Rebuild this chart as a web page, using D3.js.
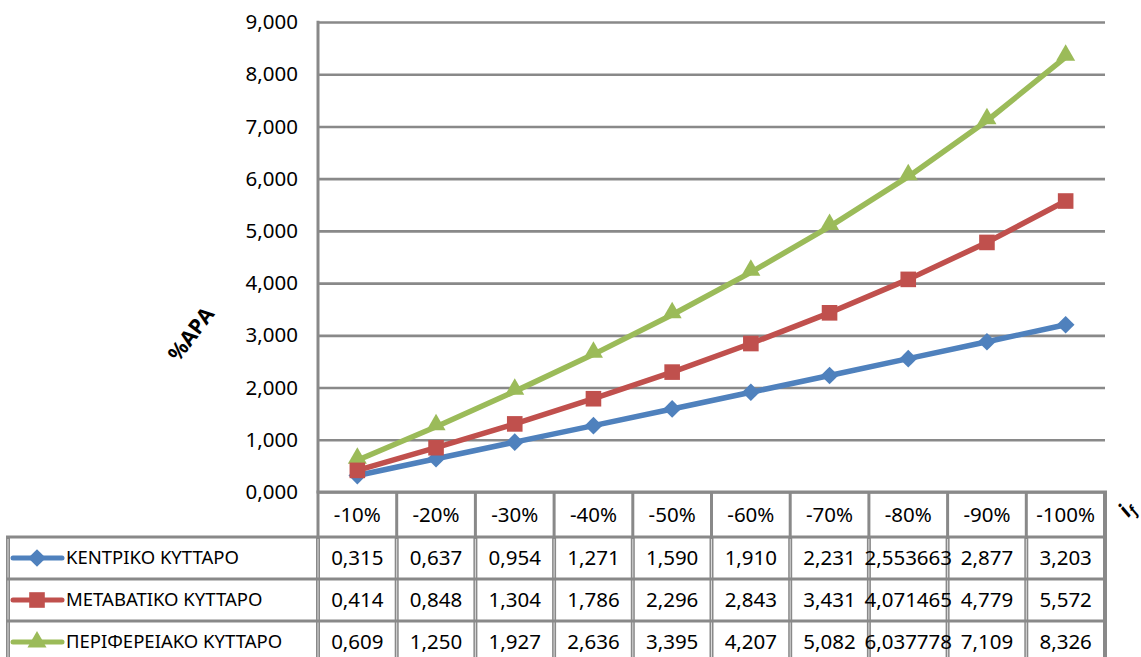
<!DOCTYPE html>
<html>
<head>
<meta charset="utf-8">
<script src="https://cdn.jsdelivr.net/npm/d3@7"></script>
<style>
  html, body { margin: 0; padding: 0; background: #fff; }
  svg { display: block; }
  text { font-family: "Noto Sans", "Open Sans", sans-serif; fill: #000; }
</style>
</head>
<body>
<svg id="chart" width="1141" height="657"></svg>
<script>
// Categories along the x axis (change of i_f)
const categories = ["-10%", "-20%", "-30%", "-40%", "-50%", "-60%", "-70%", "-80%", "-90%", "-100%"];

// %ΑΡΑ per cell type
const central      = [0.315, 0.637, 0.954, 1.271, 1.590, 1.910, 2.231, 2.553663, 2.877, 3.203];
const transitional = [0.414, 0.848, 1.304, 1.786, 2.296, 2.843, 3.431, 4.071465, 4.779, 5.572];
const peripheral   = [0.609, 1.250, 1.927, 2.636, 3.395, 4.207, 5.082, 6.037778, 7.109, 8.326];

// Series names shown in the data table legend
const seriesNames = ["ΚΕΝΤΡΙΚΟ ΚΥΤΤΑΡΟ", "ΜΕΤΑΒΑΤΙΚΟ ΚΥΤΤΑΡΟ", "ΠΕΡΙΦΕΡΕΙΑΚΟ ΚΥΤΤΑΡΟ"];

// Decimal places printed in the data table for each column
const tableDecimals = [3, 3, 3, 3, 3, 3, 3, 6, 3, 3];

// Y axis tick values
const yTicks = [0, 1, 2, 3, 4, 5, 6, 7, 8, 9];

const series = [
  { name: seriesNames[0], values: central,      color: "#4F81BD", marker: "diamond" },
  { name: seriesNames[1], values: transitional, color: "#C0504D", marker: "square" },
  { name: seriesNames[2], values: peripheral,   color: "#9BBB59", marker: "triangle" }
];

const svg = d3.select("#chart");
const grey = "#898989";

const plot = { left: 318, right: 1105, top: 22, bottom: 492 };
const tableLeft = 8;
const headerBottom = 537;
const rowH = 42;

const x = d3.scaleBand().domain(categories).range([plot.left, plot.right]);
const y = d3.scaleLinear().domain([0, 9]).range([plot.bottom, plot.top]);

const fmt = (v, d) => v.toFixed(d).replace(".", ",");

// Horizontal gridlines + y tick labels via a d3 axis
const yAxis = d3.axisLeft(y)
  .tickValues(yTicks)
  .tickSize(-(plot.right - plot.left))
  .tickPadding(20)
  .tickFormat(d => fmt(d, 3));

const gy = svg.append("g")
  .attr("transform", `translate(${plot.left},0)`)
  .call(yAxis);
gy.select(".domain").remove();
gy.selectAll(".tick line").attr("stroke", grey).attr("stroke-width", 2.6);
gy.selectAll(".tick text")
  .attr("font-size", 20.5)
  .attr("font-family", "'Noto Sans', sans-serif")
  .attr("fill", "#000");

// Left plot border
svg.append("line")
  .attr("x1", plot.left).attr("x2", plot.left)
  .attr("y1", plot.top - 1.3).attr("y2", plot.bottom)
  .attr("stroke", grey).attr("stroke-width", 3);

// ---- Data table ----
const table = svg.append("g");
const bodyTop = headerBottom;
const nRows = series.length;
const bodyBottom = bodyTop + rowH * nRows;

// header row verticals
categories.forEach((c, i) => {
  table.append("line")
    .attr("x1", x(c)).attr("x2", x(c))
    .attr("y1", plot.bottom).attr("y2", headerBottom)
    .attr("stroke", grey).attr("stroke-width", 3);
});
table.append("line")
  .attr("x1", plot.right).attr("x2", plot.right)
  .attr("y1", plot.bottom).attr("y2", bodyBottom + 10)
  .attr("stroke", grey).attr("stroke-width", 4);

// body verticals (double rule)
const bodyVerticals = [tableLeft].concat(categories.map(c => x(c)));
bodyVerticals.forEach(vx => {
  table.append("line")
    .attr("x1", vx).attr("x2", vx)
    .attr("y1", bodyTop).attr("y2", bodyBottom + 10)
    .attr("stroke", grey).attr("stroke-width", 4);
  table.append("line")
    .attr("x1", vx).attr("x2", vx)
    .attr("y1", bodyTop + 2).attr("y2", bodyBottom + 10)
    .attr("stroke", "#dcdcdc").attr("stroke-width", 1);
});

// body horizontals
for (let r = 0; r <= nRows; r++) {
  table.append("line")
    .attr("x1", tableLeft - 2).attr("x2", plot.right + 2)
    .attr("y1", bodyTop + r * rowH).attr("y2", bodyTop + r * rowH)
    .attr("stroke", grey).attr("stroke-width", 3);
}

// x axis line (top of the header row)
svg.append("line")
  .attr("x1", plot.left - 1.5).attr("x2", plot.right + 2)
  .attr("y1", plot.bottom).attr("y2", plot.bottom)
  .attr("stroke", grey).attr("stroke-width", 3);

// header labels
table.selectAll("text.hdr")
  .data(categories)
  .join("text")
  .attr("class", "hdr")
  .attr("x", d => x(d) + x.bandwidth() / 2)
  .attr("y", (plot.bottom + headerBottom) / 2)
  .attr("dy", "0.35em")
  .attr("text-anchor", "middle")
  .attr("font-size", 20.5)
  .text(d => d);

// marker shapes (sizes chosen so the drawn glyphs are ~16-19 px across)
function markerPath(type) {
  if (type === "diamond") return d3.symbol(d3.symbolDiamond2, 200)();
  if (type === "square") return d3.symbol(d3.symbolSquare2, 310)();
  return d3.symbol(d3.symbolTriangle2, 260)();
}

// rows: legend key + values
series.forEach((s, r) => {
  const cy = bodyTop + r * rowH + rowH / 2;
  table.append("line")
    .attr("x1", 13).attr("x2", 62)
    .attr("y1", cy).attr("y2", cy)
    .attr("stroke", s.color).attr("stroke-width", 5)
    .attr("stroke-linecap", "round");
  table.append("path")
    .attr("d", markerPath(s.marker))
    .attr("transform", `translate(37,${cy + (s.marker === "triangle" ? 0 : 0)})`)
    .attr("fill", s.color);
  table.append("text")
    .attr("x", 66).attr("y", cy)
    .attr("dy", "0.35em")
    .attr("font-size", 18.5)
    .text(s.name);
  table.selectAll(null)
    .data(s.values)
    .join("text")
    .attr("x", (d, i) => x(categories[i]) + x.bandwidth() / 2)
    .attr("y", cy)
    .attr("dy", "0.35em")
    .attr("text-anchor", "middle")
    .attr("font-size", 20.5)
    .text((d, i) => fmt(d, tableDecimals[i]));
});

// ---- Series lines and markers ----
const line = d3.line()
  .x((d, i) => x(categories[i]) + x.bandwidth() / 2)
  .y(d => y(d));

const drawOrder = [series[2], series[0], series[1]];
drawOrder.forEach(s => {
  const g = svg.append("g");
  g.append("path")
    .datum(s.values)
    .attr("d", line)
    .attr("fill", "none")
    .attr("stroke", s.color)
    .attr("stroke-width", 5.5)
    .attr("stroke-linejoin", "round");
  g.selectAll("path.mk")
    .data(s.values)
    .join("path")
    .attr("class", "mk")
    .attr("d", markerPath(s.marker))
    .attr("transform", (d, i) =>
      `translate(${x(categories[i]) + x.bandwidth() / 2},${y(d) + (s.marker === "triangle" ? -2 : 0)})`)
    .attr("fill", s.color);
});

// ---- Axis titles ----
svg.append("text")
  .attr("transform", "translate(191,334) rotate(-53)")
  .attr("text-anchor", "middle")
  .attr("dy", "0.35em")
  .attr("font-size", 21)
  .attr("font-weight", "bold")
  .text("%ΑΡΑ");

const xt = svg.append("text")
  .attr("transform", "translate(1126,509) rotate(-53)")
  .attr("text-anchor", "middle")
  .attr("dy", "0.35em")
  .attr("font-size", 21)
  .attr("font-weight", "bold")
  .attr("font-style", "italic");
xt.append("tspan").text("i");
xt.append("tspan").attr("font-size", 14).attr("dy", "0.3em").text("f");
</script>
</body>
</html>
